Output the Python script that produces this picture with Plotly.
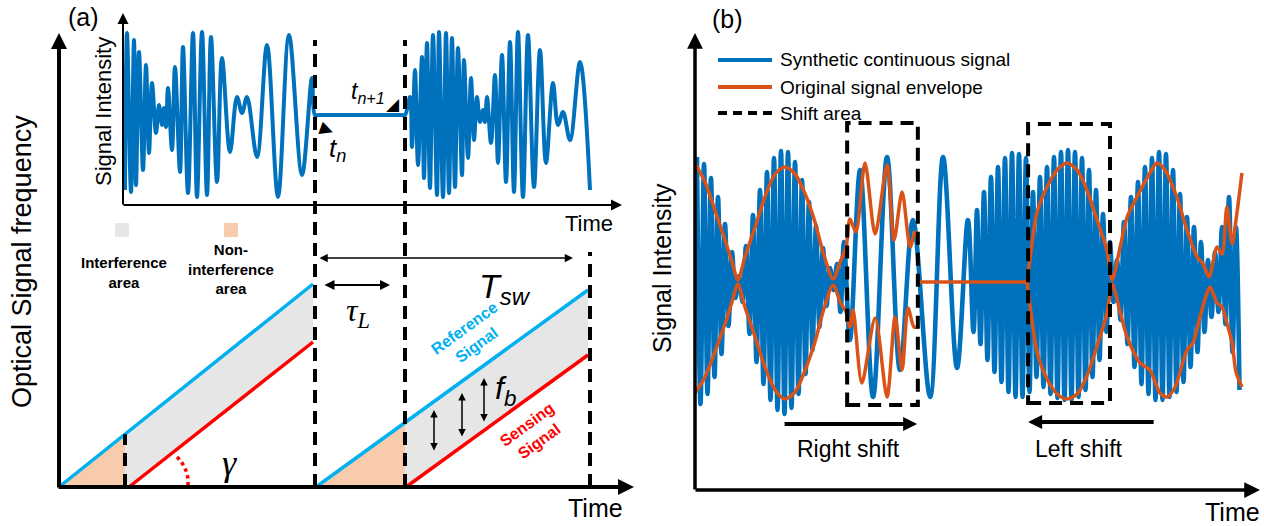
import plotly.graph_objects as go

W, H = 1264, 526
SANS = "Liberation Sans, Arial, sans-serif"
SERIF = "Liberation Serif, Times New Roman, serif"

SIG_BLUE = "#0072BD"
ENV_ORANGE = "#D95319"
REF_BLUE = "#00B0F0"
SENS_RED = "#FF0000"
GREY = "#E6E6E6"
PEACH = "#F8CBAD"

# ---------------- (a) inset: beat signal (time a.u., intensity a.u.) ----------------
inset_time = [2, 4, 8, 11, 13, 16, 20, 23, 26, 29, 33, 36, 39, 41, 43, 45, 49, 52, 57, 60,
              65, 70, 74, 79, 84, 88, 94, 99, 107, 114, 119, 124, 134, 144, 155, 166, 179, 189,
              192, 196, 278, 282,
              287, 289, 292, 295, 299, 301, 304, 307, 310, 314, 316, 320, 323, 326, 329, 332,
              335, 339, 341, 345, 348, 351, 354, 357, 360, 362, 364, 368, 372, 375, 379, 383,
              387, 391, 395, 400, 405, 411, 417, 423, 430, 435, 440, 447, 457, 467]
inset_intensity = [-75, 82, -77, 75, -70, 63, -55, 50, -38, 32, -18, 10, -10, 7, -12, 27, -35, 48,
                   -57, 68, -78, 82, -82, 83, -80, 78, -67, 57, -37, 18, 2, 18, -42, 70, -82, 80,
                   -60, 37, 0, 0, 0, 0,
                   18, -32, 45, -50, 58, -63, 72, -73, 80, -80, 83, -82, 82, -78, 77, -72, 67, -60,
                   55, -43, 37, -25, 18, -7, 5, -7, 18, -28, 40, -48, 60, -67, 73, -77, 83, -82,
                   80, -72, 65, -48, 32, -10, 3, -25, 53, -75]

# ---------------- (a) frequency sweeps (time a.u., optical frequency a.u.) ----------------
ref1_time, ref1_freq = [0, 254], [0, 203]
sens1_time, sens1_freq = [70, 254], [0, 145]
ref2_time, ref2_freq = [257, 529], [0, 197]
sens2_time, sens2_freq = [347, 529], [0, 132]
interf_start = [66, 346]          # beginning of interference area in each sweep
sweep_marks = [256, 346, 531]     # dashed time markers (t_n, t_n+1, end of T_sw)

# ---------------- (b) synthetic signal extrema (time a.u., intensity a.u.) ----------------
sig_time = [0, 1, 2, 3, 4, 5, 6, 7, 8, 9, 10, 11, 12, 13, 14, 15, 16, 17, 18, 19, 20, 21, 22,
            23, 24, 25, 26, 27, 28, 29, 30, 31, 32, 33, 34, 35, 36, 37, 38, 39, 40, 41, 42,
            43.7, 46.6, 50.3, 54.3, 58.0, 61.7, 66.6, 70.3, 74.3, 77.4,
            79, 80, 81, 82, 83, 84, 85, 86, 87, 88, 89, 90, 91, 92, 93, 94, 95, 96, 97, 98, 99,
            100, 101, 102, 103, 104, 105, 106, 107, 108, 109, 110, 111, 112, 113, 114, 115, 116,
            117, 118, 119, 120, 121, 122, 123, 124, 125, 126, 127, 128, 129, 130, 131, 132, 133,
            134, 135, 136, 137, 138, 139, 140, 141, 142, 143, 144, 145, 146, 147, 148, 149, 150,
            151, 152, 153, 154, 155]
sig_intensity = [125, -122, 118, -112, 104, -95, 85, -72, 58, -44, 30, -16, 6, -20, 36, -52, 67,
                 -80, 92, -102, 110, -118, 124, -128, 131, -132, 130, -126, 120, -112, 102, -92,
                 80, -68, 56, -45, 34, -24, 14, -8, 18, -30, 40,
                 -58, 112, -115, 125, -88, 62, -115, 125, -86, 62,
                 -50, 72, -62, 90, -78, 105, -90, 115, -100, 124, -110, 129, -115, 128, -115, 124,
                 -110, 90, -95, 105, -105, 115, -112, 125, -116, 130, -118, 132, -118, 130, -115,
                 124, -108, 112, -95, 92, -78, 68, -50, 40, -20, 22, -38, 60, -62, 85, -85, 100,
                 -102, 115, -112, 124, -118, 130, -118, 128, -115, 112, -110, 88, -100, 65, -85,
                 55, -70, 40, -50, 22, -35, 30, -30, 55, -42, 85, -70, 55, -108]

env_top_time = [-0.6, 2.3, 5.1, 8.0, 10.0, 11.7, 13.7, 16.6, 19.4, 22.3, 25.1, 28.0, 30.9, 33.7,
                36.0, 38.9, 40.9, 42.6, 43.7, 45.4, 48.0, 50.9, 54.3, 56.3, 58.6, 60.9, 62.3, 63.1,
                None,
                94.3, 95.1, 97.1, 100.0, 102.9, 105.7, 108.6, 111.4, 114.3, 117.1, 118.6, 120.9,
                122.9, 125.7, 129.4, 131.4, 133.7, 137.1, 140.0, 142.9, 144.6, 146.3, 148.6, 150.0,
                151.4, 152.9, 154.0, 155.7]
env_top_intensity = [119, 100, 72, 42, 20, 2, 25, 55, 85, 108, 115, 108, 88, 60, 30, 3, 20, 35,
                     63, 50, 119, 48, 117, 42, 90, 35, 50, 45,
                     None,
                     0, 22, 69, 95, 112, 119, 112, 92, 62, 32, 2, 35, 65, 85, 109, 119, 112, 85,
                     52, 25, 18, 5, 35, 28, 75, 38, 62, 109]
env_bot_time = [-0.6, 2.3, 5.1, 8.0, 10.0, 11.7, 13.7, 16.6, 19.4, 22.3, 25.1, 28.0, 30.9, 33.7,
                36.0, 38.9, 40.9, 42.6, 43.7, 44.6, 47.1, 50.9, 54.3, 56.6, 58.6, 60.3, 62.0, 63.1,
                None,
                94.3, 95.1, 97.1, 100.0, 102.9, 105.7, 108.6, 111.4, 114.3, 117.1, 118.6, 120.9,
                122.9, 126.6, 129.4, 132.3, 134.3, 136.6, 140.0, 141.7, 143.7, 145.7, 146.6,
                148.6, 150.0, 151.4, 152.9, 154.0, 155.7]
env_bot_intensity = [-111, -95, -70, -42, -20, -2, -25, -55, -85, -108, -117, -110, -88, -60,
                     -30, -3, -20, -30, -45, -28, -101, -36, -115, -35, -88, -26, -45, -45,
                     None,
                     0, -22, -69, -97, -112, -117, -112, -94, -64, -32, -2, -30, -55, -81, -88,
                     -111, -115, -105, -68, -61, -35, -11, -5, -21, -25, -41, -61, -90, -105]
env_flat_time = [63.1, 94.3]
env_flat_intensity = [0, 0]

shift_box1_time, shift_box1_int = [42.9, 63.1], [-123, 159]
shift_box2_time, shift_box2_int = [94.6, 118.0], [-121, 158]


def fx(px):
    return px / W


def fy(py):
    return 1 - py / H


def on_line(t, ts, fs):
    return fs[0] + (t - ts[0]) * (fs[1] - fs[0]) / (ts[1] - ts[0])


fig = go.Figure()

# ---- (a) fills ----
b1 = on_line(interf_start[0], ref1_time, ref1_freq)
b2 = on_line(interf_start[1], ref2_time, ref2_freq)
fills = [
    ([ref1_time[0], interf_start[0], interf_start[0]], [0, b1, 0], PEACH),
    ([interf_start[0], ref1_time[1], sens1_time[1], sens1_time[0], interf_start[0]],
     [b1, ref1_freq[1], sens1_freq[1], 0, 0], GREY),
    ([ref2_time[0], interf_start[1], interf_start[1]], [0, b2, 0], PEACH),
    ([interf_start[1], ref2_time[1], sens2_time[1], sens2_time[0], interf_start[1]],
     [b2, ref2_freq[1], sens2_freq[1], 0, 0], GREY),
]
for xs, ys, col in fills:
    fig.add_trace(go.Scatter(x=xs, y=ys, fill="toself", fillcolor=col, mode="lines",
                             line=dict(width=0, color=col), xaxis="x", yaxis="y",
                             hoverinfo="skip", showlegend=False))

for ts, fs, col in [(ref1_time, ref1_freq, REF_BLUE), (sens1_time, sens1_freq, SENS_RED),
                    (ref2_time, ref2_freq, REF_BLUE), (sens2_time, sens2_freq, SENS_RED)]:
    fig.add_trace(go.Scatter(x=ts, y=fs, mode="lines", line=dict(color=col, width=3.5),
                             xaxis="x", yaxis="y", hoverinfo="skip", showlegend=False))

# ---- (a) inset ----
fig.add_trace(go.Scatter(x=inset_time, y=inset_intensity, mode="lines",
                         line=dict(color=SIG_BLUE, width=4, shape="spline", smoothing=1),
                         xaxis="x2", yaxis="y2", hoverinfo="skip", showlegend=False))

# ---- (b) ----
fig.add_trace(go.Scatter(x=sig_time, y=sig_intensity, mode="lines",
                         line=dict(color=SIG_BLUE, width=4.6, shape="spline", smoothing=1),
                         xaxis="x3", yaxis="y3", hoverinfo="skip", showlegend=False))
for xs, ys in [(env_top_time, env_top_intensity), (env_bot_time, env_bot_intensity)]:
    fig.add_trace(go.Scatter(x=xs, y=ys, mode="lines", connectgaps=False,
                             line=dict(color=ENV_ORANGE, width=3.5, shape="spline", smoothing=0.8),
                             xaxis="x3", yaxis="y3", hoverinfo="skip", showlegend=False))
fig.add_trace(go.Scatter(x=env_flat_time, y=env_flat_intensity, mode="lines",
                         line=dict(color=ENV_ORANGE, width=3.5),
                         xaxis="x3", yaxis="y3", hoverinfo="skip", showlegend=False))

# ---------------- shapes ----------------
DASH = "13px,8px"
shapes = []
shapes.append(dict(type="line", xref="x", yref="y", x0=interf_start[0], x1=interf_start[0],
                   y0=0, y1=b1, line=dict(color="black", width=4, dash=DASH)))
for t, top in zip(sweep_marks, [447, 447, 235]):
    shapes.append(dict(type="line", xref="x", yref="y", x0=t, x1=t, y0=0, y1=top,
                       line=dict(color="black", width=4, dash=DASH)))
# gamma angle (dotted arc)
shapes.append(dict(type="path", xref="x", yref="y",
                   path="M 118,30 Q 130,18 129,2",
                   line=dict(color=SENS_RED, width=3.5, dash="dot")))
# (a) legend squares
shapes.append(dict(type="rect", xref="x", yref="y", x0=56, x1=70, y0=250, y1=264,
                   fillcolor=GREY, line=dict(width=0)))
shapes.append(dict(type="rect", xref="x", yref="y", x0=165, x1=179, y0=250, y1=264,
                   fillcolor=PEACH, line=dict(width=0)))
# (b) shift boxes
for bt, bi in [(shift_box1_time, shift_box1_int), (shift_box2_time, shift_box2_int)]:
    shapes.append(dict(type="rect", xref="x3", yref="y3", x0=bt[0], x1=bt[1], y0=bi[0], y1=bi[1],
                       line=dict(color="black", width=4, dash=DASH)))
# (b) legend lines
for py, col, dash in [(60, SIG_BLUE, "solid"), (87, ENV_ORANGE, "solid"), (113, "black", "9px,6px")]:
    shapes.append(dict(type="line", xref="paper", yref="paper", x0=fx(718), x1=fx(772),
                       y0=fy(py), y1=fy(py), line=dict(color=col, width=4, dash=dash)))

# ---------------- annotations ----------------
ann = []


def axis_arrow(tip, tail, width, size):
    ann.append(dict(xref="paper", yref="paper", x=fx(tip[0]), y=fy(tip[1]),
                    ax=tail[0] - tip[0], ay=tail[1] - tip[1], text="", showarrow=True,
                    arrowhead=2, arrowsize=size, arrowwidth=width, arrowcolor="black"))


axis_arrow((59, 33), (59, 489), 4, 0.8)
axis_arrow((634, 487), (57, 487), 4, 0.8)
axis_arrow((123, 13), (123, 206), 2, 1.1)
axis_arrow((622, 205), (122, 205), 2, 1.1)
axis_arrow((695, 33), (695, 491), 3.5, 0.9)
axis_arrow((1260, 490), (694, 490), 3.5, 0.9)


def data_arrow(xr, yr, x, y, ax, ay, width, size, both=False):
    ann.append(dict(xref=xr, yref=yr, axref=xr, ayref=yr, x=x, y=y, ax=ax, ay=ay, text="",
                    showarrow=True, arrowhead=2, arrowsize=size, arrowwidth=width,
                    arrowcolor="black", arrowside="end+start" if both else "end"))


data_arrow("x", "y", 514, 229, 259, 229, 1.5, 1.1, True)     # T_sw
data_arrow("x", "y", 331, 202, 264, 202, 2, 1.0, True)       # tau_L
for t, f0, f1 in [(375, 35, 77), (403, 49, 94), (425, 64, 109)]:
    data_arrow("x", "y", t, f1, t, f0, 1.5, 1.0, True)       # f_b
data_arrow("x3", "y3", 62.9, -142, 24.6, -142, 4, 0.7)       # right shift
data_arrow("x3", "y3", 94.6, -140, 130.9, -140, 4, 0.7)      # left shift


def label(text, x, y, size, xr="paper", yr="paper", angle=0, color="black", family=SANS,
          xanchor="center"):
    if xr == "paper":
        x, y = fx(x), fy(y)
    ann.append(dict(xref=xr, yref=yr, x=x, y=y, text=text, showarrow=False, textangle=angle,
                    font=dict(family=family, size=size, color=color), xanchor=xanchor,
                    yanchor="middle"))


label("(a)", 83, 17, 25)
label("(b)", 727, 19, 25)
label("Optical Signal frequency", 22, 262, 27, angle=-90)
label("Signal Intensity", 103, 112, 22, angle=-90)
label("Time", 589, 223, 22)
label("Time", 595, 508, 25)
label("Signal Intensity", 662, 268, 25, angle=-90)
label("Time", 1232, 512, 25)

label("<b>Interference<br>area</b>", 65, 215, 15, "x", "y")
label("<b>Non-<br>interference<br>area</b>", 172, 218, 15, "x", "y")
label("<i>τ</i><sub><i>L</i></sub>", 299, 175, 32, "x", "y", family=SERIF)
label("<i>T</i><sub><i>sw</i></sub>", 446, 199, 34, "x", "y")
label("<i>f</i><sub><i>b</i></sub>", 446, 97, 32, "x", "y")
label("<i>γ</i>", 170, 24, 36, "x", "y", family=SERIF)
label("<b>Reference<br>Signal</b>", 411, 150, 16, "x", "y", angle=-36, color=REF_BLUE)
label("<b>Sensing<br>Signal</b>", 474, 54, 16, "x", "y", angle=-36, color=SENS_RED)

label("<i>t</i><sub><i>n</i></sub>", 214, -35, 26, "x2", "y2")
label("<i>t</i><sub><i>n+1</i></sub>", 245, 22, 23, "x2", "y2")
label("▶", 204, -15, 17, "x2", "y2", angle=20)
label("◢", 270, 10, 17, "x2", "y2")

label("Right shift", 43.4, -167, 23, "x3", "y3")
label("Left shift", 109.1, -167, 23, "x3", "y3")

label("Synthetic continuous signal", 778, 60, 19, xanchor="left")
label("Original signal envelope", 778, 87, 19, xanchor="left")
label("Shift area", 778, 113, 19, xanchor="left")

hidden = dict(visible=False, showgrid=False, zeroline=False, fixedrange=True)
fig.update_layout(
    width=W, height=H, margin=dict(l=0, r=0, t=0, b=0),
    paper_bgcolor="white", plot_bgcolor="rgba(0,0,0,0)",
    showlegend=False,
    xaxis=dict(domain=[fx(56), fx(632)], range=[-3, 573], **hidden),
    yaxis=dict(domain=[fy(490), fy(5)], range=[-3, 482], **hidden),
    xaxis2=dict(domain=[fx(123), fx(620)], range=[0, 497], **hidden),
    yaxis2=dict(domain=[fy(205), fy(15)], range=[-90, 100], **hidden),
    xaxis3=dict(domain=[fx(695), fx(1258)], range=[-0.571, 160.286], **hidden),
    yaxis3=dict(domain=[fy(490), fy(30)], range=[-208, 252], **hidden),
    shapes=shapes, annotations=ann,
    font=dict(family=SANS),
)

fig.write_html("out.html")
